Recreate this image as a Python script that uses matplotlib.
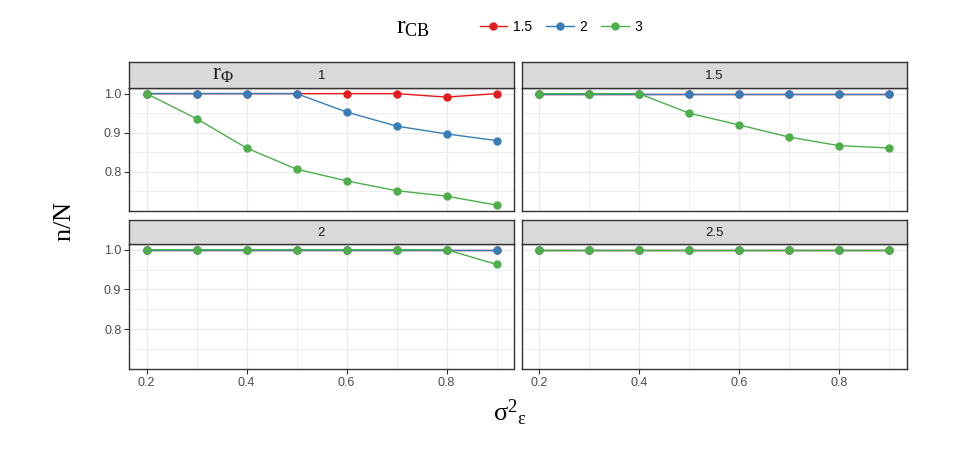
import matplotlib
matplotlib.use("Agg")
import matplotlib.pyplot as plt
from matplotlib.lines import Line2D

plt.rcParams['font.family'] = ['Liberation Sans', 'DejaVu Sans']

x = [0.2, 0.3, 0.4, 0.5, 0.6, 0.7, 0.8, 0.9]
r_phi = ['1', '1.5', '2', '2.5']
r_cb = ['1.5', '2', '3']

# values[r_phi][r_cb]
p1_r15 = [1.0, 1.0, 1.0, 1.0, 1.0, 1.0, 0.991, 1.0]
p1_r2 = [1.0, 1.0, 1.0, 1.0, 0.953, 0.917, 0.897, 0.880]
p1_r3 = [1.0, 0.936, 0.861, 0.807, 0.777, 0.752, 0.738, 0.715]

p15_r15 = [1.0, 1.0, 1.0, 1.0, 1.0, 1.0, 1.0, 1.0]
p15_r2 = [1.0, 1.0, 1.0, 1.0, 1.0, 1.0, 1.0, 1.0]
p15_r3 = [1.0, 1.0, 1.0, 0.950, 0.920, 0.889, 0.867, 0.861]

p2_r15 = [1.0, 1.0, 1.0, 1.0, 1.0, 1.0, 1.0, 1.0]
p2_r2 = [1.0, 1.0, 1.0, 1.0, 1.0, 1.0, 1.0, 1.0]
p2_r3 = [1.0, 1.0, 1.0, 1.0, 1.0, 1.0, 1.0, 0.963]

p25_r15 = [1.0, 1.0, 1.0, 1.0, 1.0, 1.0, 1.0, 1.0]
p25_r2 = [1.0, 1.0, 1.0, 1.0, 1.0, 1.0, 1.0, 1.0]
p25_r3 = [1.0, 1.0, 1.0, 1.0, 1.0, 1.0, 1.0, 1.0]

panels = [
    [p1_r15, p1_r2, p1_r3],
    [p15_r15, p15_r2, p15_r3],
    [p2_r15, p2_r2, p2_r3],
    [p25_r15, p25_r2, p25_r3],
]
colors = ['#E41A1C', '#377EB8', '#4DAF4A']

x_ticks = [0.2, 0.4, 0.6, 0.8]
x_minor = [0.3, 0.5, 0.7, 0.9]
y_ticks = [0.8, 0.9, 1.0]
y_minor = [0.75, 0.85, 0.95]

W, H = 955, 457
fig = plt.figure(figsize=(W / 100, H / 100), dpi=100)

cols = [(129, 514), (521.5, 906.5)]
rows = [((62, 88), (88, 211)), ((220, 244), (244, 369))]

SERIF = 'Liberation Serif'

def box(x0, x1, y0, y1):
    return [x0 / W, 1 - y1 / H, (x1 - x0) / W, (y1 - y0) / H]

ymin = 0.7
ymax = 1.0143
xmin, xmax = 0.165, 0.935

for i, label in enumerate(r_phi):
    r, c = divmod(i, 2)
    (sx0, sx1) = cols[c]
    (st0, st1), (pt0, pt1) = rows[r]
    ax = fig.add_axes(box(sx0, sx1, pt0, pt1))
    ax.set_xlim(xmin, xmax)
    ax.set_ylim(ymin, ymax)
    ax.set_xticks(x_ticks)
    ax.set_xticks(x_minor, minor=True)
    ax.set_yticks(y_ticks)
    ax.set_yticks(y_minor, minor=True)
    ax.grid(True, which='major', color='#EBEBEB', lw=1.0, zorder=0)
    ax.grid(True, which='minor', color='#EBEBEB', lw=0.6, zorder=0)
    ax.set_axisbelow(True)
    for s in ax.spines.values():
        s.set_color('#333333')
        s.set_linewidth(1.0)
    ax.tick_params(which='minor', length=0)
    ax.tick_params(which='major', length=3.5, width=0.8, color='#333333',
                   labelsize=9, labelcolor='#4D4D4D', pad=2)
    if c == 1:
        ax.tick_params(axis='y', labelleft=False, length=0)
    if r == 0:
        ax.tick_params(axis='x', labelbottom=False, length=0)
    for k, ser in enumerate(panels[i]):
        ax.plot(x, ser, color=colors[k], lw=1.0, marker='o', ms=5,
                mec=colors[k], mfc=colors[k], zorder=3 + k, clip_on=False)
    # strip
    sax = fig.add_axes(box(sx0, sx1, st0, st1))
    sax.set_facecolor('#D9D9D9')
    sax.set_xticks([])
    sax.set_yticks([])
    for s in sax.spines.values():
        s.set_color('#333333')
        s.set_linewidth(1.0)
    sax.text(0.5, 0.45, label, ha='center', va='center', fontsize=9.5,
             color='#1A1A1A', transform=sax.transAxes)
    if i == 0:
        sax.text((223 - sx0) / (sx1 - sx0), 0.5, r'$\mathregular{r_{\Phi}}$',
                 ha='center', va='center', fontsize=17, color='#1A1A1A',
                 family=SERIF, transform=sax.transAxes)

# axis labels
fig.text(65 / W, 1 - 222 / H, r'$\mathregular{n/N}$', rotation=90,
         ha='center', va='center', fontsize=19, color='black', family=SERIF)
fig.text(510 / W, 1 - 413 / H, r'$\mathregular{\sigma^{2}{}_{\varepsilon}}$',
         ha='center', va='center', fontsize=19, color='black', family=SERIF)

# legend
fig.text(413 / W, 1 - 28 / H, r'$\mathregular{r_{CB}}$', ha='center',
         va='center', fontsize=18.5, color='black', family=SERIF)
handles = [Line2D([0], [0], color=colors[k], lw=1.0, marker='o', ms=5)
           for k in range(3)]
fig.legend(handles, r_cb, loc='center left', bbox_to_anchor=(474 / W, 1 - 27 / H),
           ncol=3, frameon=False, fontsize=10, handlelength=2.0,
           handletextpad=0.4, columnspacing=1.0, borderaxespad=0)

fig.savefig('out.png', dpi=100)
